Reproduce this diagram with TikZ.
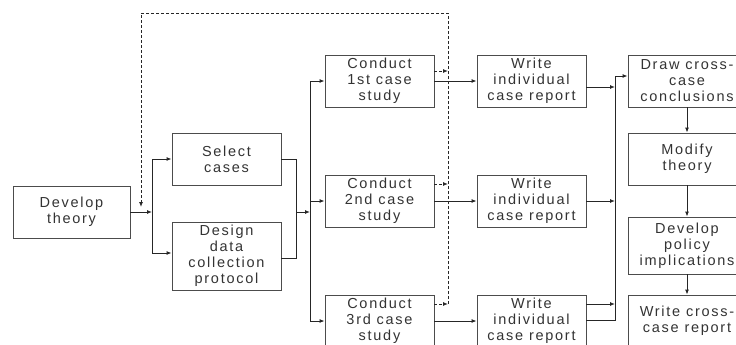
\documentclass[tikz,border=0pt]{standalone}
\usepackage{fontspec}
\setmainfont{Liberation Sans}[LetterSpace=12]
\usetikzlibrary{arrows.meta}

\begin{document}
\begin{tikzpicture}[x=1pt,y=-1pt,
    box/.style={draw=black!70, line width=0.9pt, text=black!80, align=center,
      inner sep=0pt, minimum width=109pt, minimum height=52pt,
      font=\fontsize{14.5}{16}\selectfont},
    flow/.style={black!85, line width=0.9pt, -{Latex[length=5pt,width=4pt]}},
    link/.style={black!85, line width=0.9pt},
    back/.style={black!85, line width=0.9pt, densely dashed}]
    \useasboundingbox (0,0) rectangle (736,345);
    % boxes
    \node[box, minimum width=117pt] (dev) at (71.5,212) {Develop\\theory};
    \node[box] (sel) at (226.5,159) {Select\\cases};
    \node[box, minimum height=68pt] (des) at (226.5,256) {Design\\data\\collection\\protocol};
    \node[box] (c1) at (379.5,81) {Conduct\\1st case\\study};
    \node[box] (c2) at (379.5,201) {Conduct\\2nd case\\study};
    \node[box] (c3) at (379.5,321) {Conduct\\3rd case\\study};
    \node[box] (w1) at (531.5,81) {Write\\individual\\case report};
    \node[box] (w2) at (531.5,201) {Write\\individual\\case report};
    \node[box] (w3) at (531.5,321) {Write\\individual\\case report};
    \node[box, minimum width=118pt] (dc) at (687,81) {Draw cross-\\case\\conclusions};
    \node[box, minimum width=118pt] (mt) at (687,159) {Modify\\theory};
    \node[box, minimum width=118pt, minimum height=57pt] (dp) at (687,245.5) {Develop\\policy\\implications};
    \node[box, minimum width=118pt] (wc) at (687,321) {Write cross-\\case report};
    % junctions
    \coordinate (j1) at (152,212);
    \coordinate (j2) at (296,212);
    \coordinate (j3) at (310,212);
    \coordinate (j4) at (615,76);
    \coordinate (j5) at (615,320);
    \coordinate (fb) at (448,304);
    \coordinate (fb1) at (448,13);
    \coordinate (fb2) at (141,13);
    \coordinate (fb3) at (141,207);
    % connectors
    \draw[flow] (dev.east) -- (j1);
    \draw[flow] (j1) |- (sel.west);
    \draw[flow] (j1) |- ([yshift=3pt]des.west);
    \draw[link] (sel.east) -| (j2);
    \draw[link] ([yshift=-2pt]des.east) -| (j2);
    \draw[flow] (j2) -- (j3);
    \draw[flow] (j3) |- (c1.west);
    \draw[flow] (j3) |- (c2.west);
    \draw[flow] (j3) |- (c3.west);
    \draw[flow] (c1.east) -- (w1.west);
    \draw[flow] (c2.east) -- (w2.west);
    \draw[flow] (c3.east) -- (w3.west);
    \draw[flow] ([yshift=-6pt]w1.east) -- ([yshift=-6pt]w1.east -| j4);
    \draw[flow] (w2.east) -- (w2.east -| j4);
    \draw[flow] ([yshift=17pt]w3.east) -- ([yshift=17pt]w3.east -| j4);
    \draw[link] ([yshift=1pt]w3.east) -- (j5) -- (j4);
    \draw[flow] (j4) -- ([yshift=5pt]dc.west);
    \draw[flow] (dc) -- (mt);
    \draw[flow] (mt) -- (dp);
    \draw[flow] (dp) -- (wc);
    % feedback
    \draw[flow, densely dashed] ([yshift=10pt]c1.east) -- ([yshift=10pt]c1.east -| fb);
    \draw[flow, densely dashed] ([yshift=17pt]c2.east) -- ([yshift=17pt]c2.east -| fb);
    \draw[flow, densely dashed] ([yshift=17pt]c3.east) -- (fb);
    \draw[back, -{Latex[length=5pt,width=4pt]}] (fb) -- (fb1) -- (fb2) -- (fb3);
\end{tikzpicture}
\end{document}
